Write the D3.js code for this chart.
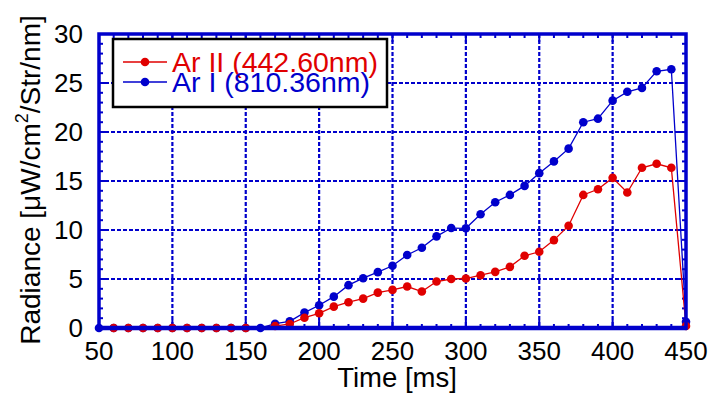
<!DOCTYPE html>
<html><head><meta charset="utf-8">
<script src="https://cdn.jsdelivr.net/npm/d3@7"></script>
<style>body{margin:0;background:#fff}svg{display:block}text{font-family:"Liberation Sans",Arial,sans-serif}</style>
</head><body><svg id="c" width="716" height="395"></svg>
<script>
const time = [50,60,70,80,90,100,110,120,130,140,150,160,170,180,190,200,210,220,230,240,250,260,270,280,290,300,310,320,330,340,350,360,370,380,390,400,410,420,430,440,450];
const arI = [0,0,0,0,0,0,0,0,0,0,0,0,0.44,0.68,1.57,2.32,3.2,4.37,5.08,5.7,6.35,7.45,8.19,9.35,10.2,10.17,11.6,12.83,13.58,14.5,15.8,17.0,18.3,21.0,21.36,23.2,24.1,24.5,26.2,26.4,0.64];
const arII = [null,0,0,0,0,0,0,0,0,0,0,null,0.2,0.41,1.05,1.5,2.18,2.63,3.0,3.61,3.89,4.23,3.72,4.74,5.0,5.05,5.39,5.73,6.24,7.37,7.78,8.97,10.44,13.58,14.16,15.32,13.82,16.35,16.76,16.35,0.2];
const xTicks = [50,100,150,200,250,300,350,400,450];
const yTicks = [0,5,10,15,20,25,30];
const seriesNames = ["Ar II (442.60nm)","Ar I (810.36nm)"];

const BLUE="#0000cc", RED="#e00000";
const svg = d3.select("#c");
const L=99,R=686,T=34,B=328;
const x = d3.scaleLinear().domain([50,450]).range([L,R]);
const y = d3.scaleLinear().domain([0,30]).range([B,T]);

// grid
const g = svg.append("g");
g.selectAll("line.gx").data(xTicks.filter(d=>d>50&&d<450)).join("line")
 .attr("x1",d=>x(d)).attr("x2",d=>x(d)).attr("y1",T).attr("y2",B)
 .attr("stroke",BLUE).attr("stroke-width",2.2).attr("stroke-dasharray","4,2");
g.selectAll("line.gy").data(yTicks.filter(d=>d>0&&d<30)).join("line")
 .attr("y1",d=>y(d)).attr("y2",d=>y(d)).attr("x1",L).attr("x2",R)
 .attr("stroke",BLUE).attr("stroke-width",2.2).attr("stroke-dasharray","4,2");

// ticks inside
const xMinor = d3.range(50,451,10), yMinor = d3.range(0,31,1);
const tk = svg.append("g").attr("stroke",BLUE).attr("stroke-width",2);
xMinor.forEach(v=>{const len = v%50===0?8:4;
  tk.append("line").attr("x1",x(v)).attr("x2",x(v)).attr("y1",B).attr("y2",B-len);
  tk.append("line").attr("x1",x(v)).attr("x2",x(v)).attr("y1",T).attr("y2",T+len);});
yMinor.forEach(v=>{const len = v%5===0?8:4;
  tk.append("line").attr("y1",y(v)).attr("y2",y(v)).attr("x1",L).attr("x2",L+len);
  tk.append("line").attr("y1",y(v)).attr("y2",y(v)).attr("x1",R).attr("x2",R-len);});

// series
const line = d3.line().x(d=>x(d[0])).y(d=>y(d[1]));
function drawSeries(vals,color){
  const pts = time.map((t,i)=>[t,vals[i]]).filter(d=>d[1]!==null);
  svg.append("path").datum(pts).attr("d",line).attr("fill","none").attr("stroke",color).attr("stroke-width",1.3);
  svg.append("g").selectAll("circle").data(pts).join("circle")
    .attr("cx",d=>x(d[0])).attr("cy",d=>y(d[1])).attr("r",4.3).attr("fill",color);
}
drawSeries(arI,BLUE);
drawSeries(arII,RED);

// frame
svg.append("rect").attr("x",L).attr("y",T).attr("width",R-L).attr("height",B-T)
 .attr("fill","none").attr("stroke",BLUE).attr("stroke-width",3.5);
svg.append("line").attr("x1",L-1).attr("x2",R+1).attr("y1",B).attr("y2",B).attr("stroke",BLUE).attr("stroke-width",4.5);

// tick labels
svg.append("g").selectAll("text").data(xTicks).join("text")
 .attr("x",d=>x(d)).attr("y",360).attr("text-anchor","middle").attr("font-size",26).text(d=>d);
svg.append("g").selectAll("text").data(yTicks).join("text")
 .attr("x",83).attr("y",d=>y(d)+9).attr("text-anchor","end").attr("font-size",26).text(d=>d);

// axis titles
svg.append("text").attr("x",397).attr("y",387).attr("text-anchor","middle").attr("font-size",27.5).text("Time [ms]");
const yt = svg.append("text").attr("transform","translate(40,180) rotate(-90)").attr("text-anchor","middle").attr("font-size",28);
yt.append("tspan").text("Radiance [μW/cm");
yt.append("tspan").attr("font-size",18).attr("dy",-12).text("2");
yt.append("tspan").attr("dy",12).text("/Str/nm]");

// legend
const lg = svg.append("g");
lg.append("rect").attr("x",113).attr("y",39).attr("width",274).attr("height",68).attr("fill","#fff").attr("stroke","#000").attr("stroke-width",2.5);
const legColors=[RED,BLUE], legY=[62,82];
seriesNames.forEach((n,i)=>{
  lg.append("line").attr("x1",123).attr("x2",167).attr("y1",legY[i]).attr("y2",legY[i]).attr("stroke",legColors[i]).attr("stroke-width",1.3);
  lg.append("circle").attr("cx",145).attr("cy",legY[i]).attr("r",4.3).attr("fill",legColors[i]);
  lg.append("text").attr("x",172).attr("y",legY[i]+10).attr("font-size",28.5).attr("fill",legColors[i]).text(n);
});
</script></body></html>
